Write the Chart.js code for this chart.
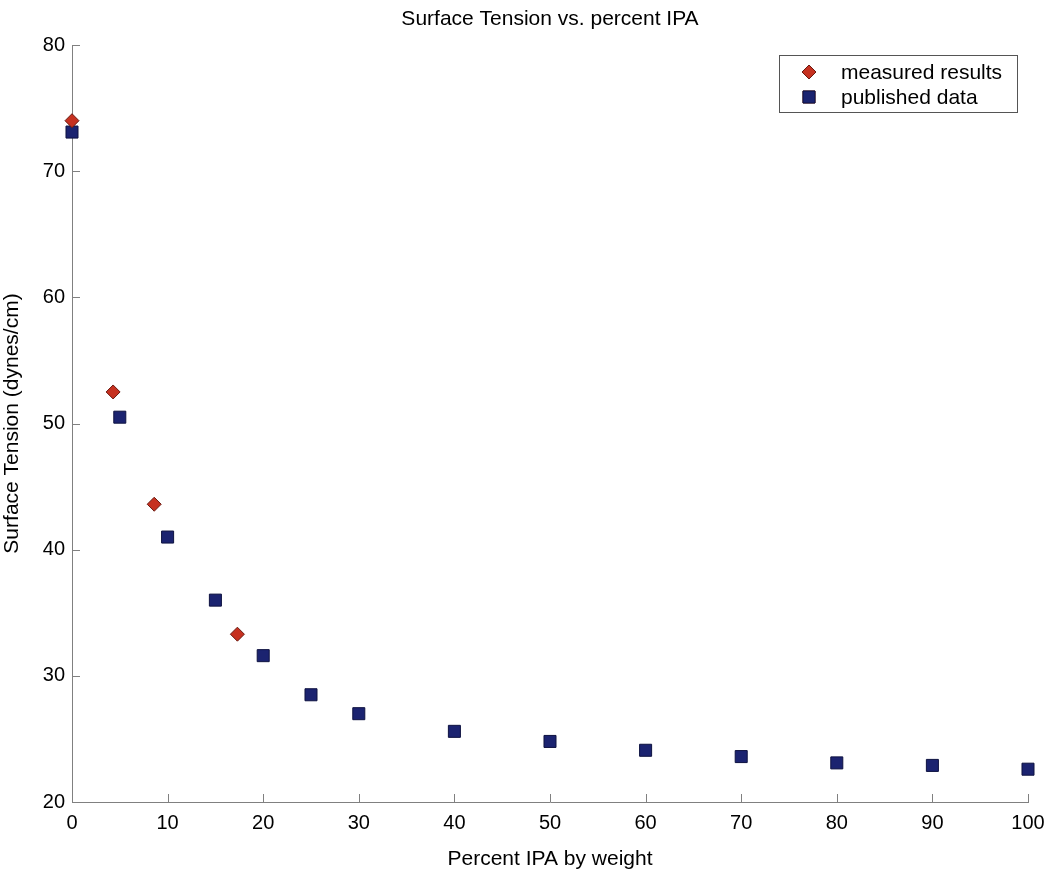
<!DOCTYPE html>
<html>
<head>
<meta charset="utf-8">
<script src="https://cdn.jsdelivr.net/npm/chart.js@4.4.1/dist/chart.umd.min.js"></script>
<style>
  html, body { margin: 0; padding: 0; background: #fff; }
  #wrap { width: 1048px; height: 873px; }
</style>
</head>
<body>
<div id="wrap"><canvas id="chart" width="1048" height="873"></canvas></div>
<script>
// measured results (diamonds)
const measuredX = [0, 4.3, 8.6, 17.3];
const measuredY = [74.0, 52.5, 43.6, 33.3];
// published data (squares)
const publishedX = [0, 5, 10, 15, 20, 25, 30, 40, 50, 60, 70, 80, 90, 100];
const publishedY = [73.1, 50.5, 41.0, 36.0, 31.6, 28.5, 27.0, 25.6, 24.8, 24.1, 23.6, 23.1, 22.9, 22.6];
const xTicks = [0, 10, 20, 30, 40, 50, 60, 70, 80, 90, 100];
const yTicks = [20, 30, 40, 50, 60, 70, 80];
const chartTitle = 'Surface Tension vs. percent IPA';

const FONT = 'Arial, "Liberation Sans", sans-serif';

// MATLAB-like inward tick marks
const inwardTicks = {
    id: 'inwardTicks',
    afterDatasetsDraw(chart) {
        const { ctx, chartArea, scales } = chart;
        ctx.save();
        ctx.strokeStyle = '#808080';
        ctx.lineWidth = 1;
        ctx.beginPath();
        xTicks.forEach(v => {
            const px = Math.round(scales.x.getPixelForValue(v)) + 0.5;
            ctx.moveTo(px, chartArea.bottom);
            ctx.lineTo(px, chartArea.bottom - 8);
        });
        yTicks.forEach(v => {
            const py = Math.round(scales.y.getPixelForValue(v)) + 0.5;
            ctx.moveTo(chartArea.left, py);
            ctx.lineTo(chartArea.left + 8, py);
        });
        ctx.stroke();
        ctx.restore();
    }
};

// title centred over the plot area
const plotTitle = {
    id: 'plotTitle',
    afterDraw(chart) {
        const { ctx, chartArea } = chart;
        ctx.save();
        ctx.font = '21px ' + FONT;
        ctx.fillStyle = '#000';
        ctx.textAlign = 'center';
        ctx.textBaseline = 'middle';
        ctx.fillText(chartTitle, (chartArea.left + chartArea.right) / 2, 19);
        ctx.restore();
    }
};

// legend box inside the plot, top right
const boxLegend = {
    id: 'boxLegend',
    afterDraw(chart) {
        const { ctx, chartArea } = chart;
        const w = 238, h = 57;
        const left = chartArea.right - 11 - w, top = chartArea.top + 10;
        ctx.save();
        ctx.fillStyle = '#fff';
        ctx.fillRect(left, top, w, h);
        ctx.strokeStyle = '#555';
        ctx.lineWidth = 1;
        ctx.strokeRect(left + 0.5, top + 0.5, w, h);
        ctx.font = '21px ' + FONT;
        ctx.textBaseline = 'middle';
        chart.data.datasets.forEach((ds, i) => {
            const cy = top + 17 + i * 25;
            Chart.helpers.drawPoint(ctx, {
                pointStyle: ds.pointStyle,
                radius: ds.pointRadius,
                borderWidth: 1
            }, left + 30, cy);
            ctx.fillStyle = ds.backgroundColor;
            ctx.strokeStyle = ds.borderColor;
            ctx.lineWidth = 1;
            ctx.fill();
            ctx.stroke();
            ctx.fillStyle = '#000';
            ctx.fillText(ds.label, left + 62, cy + 1);
        });
        ctx.restore();
    }
};

new Chart(document.getElementById('chart'), {
    type: 'scatter',
    data: {
        datasets: [
            {
                label: 'measured results',
                data: measuredX.map((x, i) => ({ x: x, y: measuredY[i] })),
                pointStyle: 'rectRot',
                pointRadius: 7,
                backgroundColor: '#c63120',
                borderColor: '#6a1a10',
                borderWidth: 1
            },
            {
                label: 'published data',
                data: publishedX.map((x, i) => ({ x: x, y: publishedY[i] })),
                pointStyle: 'rect',
                pointRadius: 8.5,
                backgroundColor: '#1b2370',
                borderColor: '#0e1240',
                borderWidth: 1
            }
        ]
    },
    options: {
        responsive: false,
        animation: false,
        clip: false,
        layout: { padding: { left: 0, right: 20, top: 45, bottom: 0 } },
        plugins: {
            legend: { display: false },
            tooltip: { enabled: false },
            title: { display: false }
        },
        scales: {
            x: {
                type: 'linear',
                min: 0, max: 100,
                afterBuildTicks: s => { s.ticks = xTicks.map(v => ({ value: v })); },
                afterFit: s => { s.height = 71; s.paddingLeft = 0; s.paddingRight = 0; },
                grid: { display: false, drawTicks: false },
                border: { display: true, color: '#808080', width: 1 },
                ticks: { color: '#000', padding: 9, font: { family: FONT, size: 20 } },
                title: {
                    display: true,
                    text: 'Percent IPA by weight',
                    color: '#000',
                    font: { family: FONT, size: 21 },
                    padding: { top: 18, bottom: 1 }
                }
            },
            y: {
                type: 'linear',
                min: 20, max: 80,
                afterBuildTicks: s => { s.ticks = yTicks.map(v => ({ value: v })); },
                afterFit: s => { s.width = 72; s.paddingTop = 0; s.paddingBottom = 0; },
                grid: { display: false, drawTicks: false },
                border: { display: true, color: '#808080', width: 1 },
                ticks: { color: '#000', padding: 7, font: { family: FONT, size: 20 } },
                title: {
                    display: true,
                    text: 'Surface Tension (dynes/cm)',
                    color: '#000',
                    font: { family: FONT, size: 21 },
                    padding: { top: 0, bottom: 0 }
                }
            }
        }
    },
    plugins: [inwardTicks, plotTitle, boxLegend]
});
</script>
</body>
</html>
